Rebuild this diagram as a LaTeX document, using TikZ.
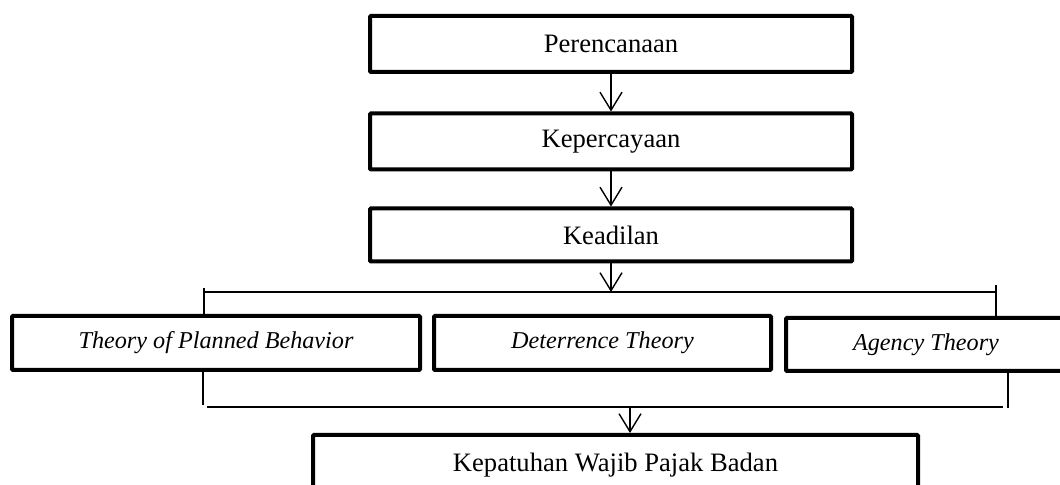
\documentclass[tikz,border=0pt]{standalone}
\usepackage{fontspec}
\setmainfont{Liberation Serif}
\usetikzlibrary{arrows.meta}
\begin{document}
\begin{tikzpicture}[x=0.5pt, y=-0.5pt, >={Straight Barb[length=9pt,width=11pt]},
        every node/.style={font=\fontsize{13.3}{15}\selectfont},
        kotak/.style={draw, line width=2pt, rounded corners=0.5pt, inner sep=0pt, minimum height=28pt},
        teori/.style={kotak, minimum height=27pt, font=\fontsize{12.1}{14}\selectfont\itshape},
        garis/.style={line width=0.7pt}]
        \useasboundingbox (0,0) rectangle (1060,485);
        % tiga faktor
        \node[kotak, minimum width=241pt] (renc) at (611,44) {Perencanaan};
        \node[kotak, minimum width=241pt] (perc) at (611,141.5) {Kepercayaan};
        \node[kotak, minimum width=241pt, minimum height=26.5pt] (adil) at (611,235) {Keadilan};
        % teori
        \node[teori, minimum width=204pt] (tpb) at (216,343) {Theory of Planned Behavior};
        \node[teori, minimum width=168.5pt] (det) at (602.5,343) {Deterrence Theory};
        \node[teori, minimum width=140pt, minimum height=26.5pt] (agen) at (926,344.5) {Agency Theory};
        % hasil
        \node[kotak, minimum width=302.5pt, minimum height=30pt] (patuh) at (615.5,465) {Kepatuhan Wajib Pajak Badan};
        \draw[garis,->] (renc.south) -- (perc.north);
        \draw[garis,->] (perc.south) -- (adil.north);
        % garis atas
        \coordinate (atasL) at (204,292);
        \coordinate (atasR) at (996,292);
        \coordinate (ujungL) at (204,288);
        \coordinate (ujungR) at (996,285);
        \draw[garis,->] (adil.south) -- (adil.south |- atasL);
        \draw[garis] (atasL) -- (atasR);
        \draw[garis] (ujungL) -- (ujungL |- tpb.north);
        \draw[garis] (ujungR) -- (ujungR |- agen.north);
        % garis bawah
        \coordinate (bawahL) at (207,407);
        \coordinate (bawahR) at (1003,407);
        \coordinate (kakiL) at (203,405);
        \coordinate (kakiR) at (1008,408);
        \coordinate (turun) at (630,407);
        \draw[garis] (kakiL |- tpb.south) -- (kakiL);
        \draw[garis] (kakiR |- agen.south) -- (kakiR);
        \draw[garis] (bawahL) -- (bawahR);
        \draw[garis,->] (turun) -- (turun |- patuh.north);
    \end{tikzpicture}
\end{document}
